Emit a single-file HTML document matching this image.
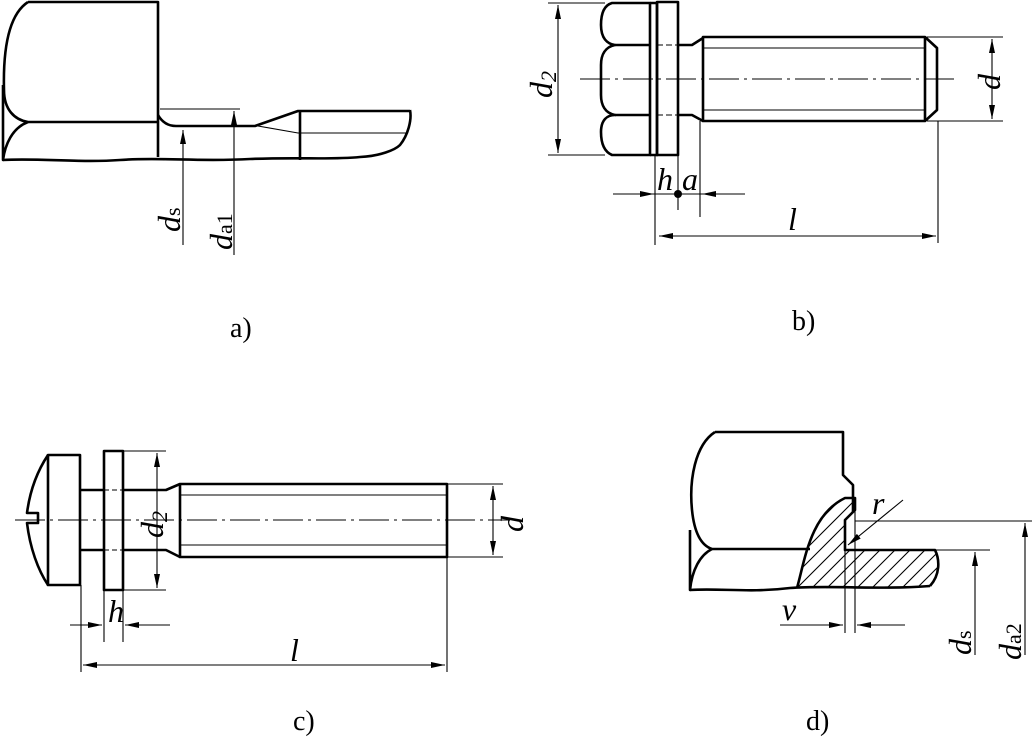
<!DOCTYPE html>
<html><head><meta charset="utf-8"><style>
html,body{margin:0;padding:0;background:#fff;}
svg{display:block;}
text{font-family:"Liberation Serif",serif;fill:#000;}
.it{font-style:italic;}
</style></head><body>
<svg width="1032" height="737" viewBox="0 0 1032 737" xmlns="http://www.w3.org/2000/svg">
<defs>
<marker id="ar" markerWidth="14" markerHeight="6" refX="14" refY="3" orient="auto" markerUnits="userSpaceOnUse"><path d="M0,0 L14,3 L0,6 Z" fill="#000"/></marker>
<clipPath id="hc"><path d="M797,588 C805,560 810,515 845,498 L855,498 L855,510 L845,520 L845,550 L935,550 C940,560 940,575 930,586 C900,590 850,588 797,588 Z"/></clipPath>
</defs>
<g fill="none" stroke="#000" stroke-width="2.6" stroke-linejoin="round">
<!-- panel a -->
<path d="M28,2 L158,2 L158,157"/>
<path d="M28,2 C8,15 3,50 4,90 C4,110 15,120 28,122 L158,122"/>
<path d="M28,122 C12,128 5,145 3,160 L3,85"/>
<path d="M3,160 C40,158 80,163 120,160 C160,157 200,162 250,159 C300,157 330,160 360,157 C380,156 395,150 400,145 C408,135 412,120 410,110"/>
<path d="M158,115 C162,122 168,126 176,126 L255,126 L298,111 L410,111"/>
<path d="M300,111 L300,160"/>
<!-- panel b -->
<path d="M612,3 L650,3 L650,155 L612,155 C605,152 601,145 601,132 C601,120 607,115 615,115 C605,113 601,105 601,95 L601,65 C601,55 605,47 615,45 C607,44 601,38 601,25 C601,12 605,5 612,3 Z"/>
<path d="M615,45 L650,45 M615,115 L650,115"/>
<path d="M650,3 L657,3 L657,155 L650,155"/>
<rect x="657" y="2" width="21" height="153"/>
<path d="M678,45 L692,45 L703,38 M678,115 L692,115 L703,121"/>
<path d="M703,37 L925,37 L937,48 L937,110 L925,121 L703,121 Z"/>
<path d="M925,37 L925,121"/>
<!-- panel c -->
<path d="M48,455 L80,455 L80,585 L48,585 Z"/>
<path d="M48,455 C38,470 30,490 27,513 L38,513 L38,523 L27,523 C30,548 38,570 48,585"/>
<path d="M80,490 L104,490 M80,550 L104,550"/>
<rect x="104" y="451" width="19" height="139"/>
<path d="M123,490 L166,490 L180,484 M123,550 L166,550 L180,557"/>
<path d="M180,484 L447,484 L447,557 L180,557 Z"/>
<!-- panel d -->
<path d="M715,432 L843,432 L843,475 L853,485 L853,512"/>
<path d="M715,432 C695,445 689,480 692,510 C694,530 700,545 712,549 L810,549"/>
<path d="M712,549 C700,555 692,570 690,590 L690,530"/>
<path d="M690,590 C720,588 750,593 790,588 C830,585 880,590 930,586"/>
<path d="M797,588 C805,560 810,515 845,498 L855,498 L855,510 L845,520 L845,550 L935,550 C940,560 940,575 930,586"/>
</g>
<g fill="none" stroke="#000" stroke-width="1.1">
<path d="M258,126 L298,133 L406,133"/>
<path d="M160,109 L240,109"/>
<path d="M183,245 L183,130" marker-end="url(#ar)"/>
<path d="M234,255 L234,111" marker-end="url(#ar)"/>
<path d="M703,48 L925,48 M703,110 L925,110"/>
<path d="M580,79 L955,79" stroke-dasharray="30,5,3,5"/>
<path d="M548,3 L605,3 M548,155 L605,155"/>
<path d="M558,79 L558,5" marker-end="url(#ar)"/><path d="M558,79 L558,153" marker-end="url(#ar)"/>
<path d="M927,37 L1003,37 M927,121 L1003,121"/>
<path d="M992,79 L992,39" marker-end="url(#ar)"/><path d="M992,79 L992,119" marker-end="url(#ar)"/>
<path d="M657,45 L678,45 M657,115 L678,115" stroke-dasharray="6,3"/>
<path d="M655,155 L655,245 M678,155 L678,210 M700,121 L700,217 M938,121 L938,243"/>
<path d="M613,194 L654,194" marker-end="url(#ar)"/><path d="M745,194 L702,194" marker-end="url(#ar)"/>
<path d="M654,194 L702,194"/>
<path d="M797,236 L659,236" marker-end="url(#ar)"/><path d="M797,236 L936,236" marker-end="url(#ar)"/>
<path d="M180,495 L447,495 M180,545 L447,545"/>
<path d="M15,520 L510,520" stroke-dasharray="30,5,3,5"/>
<path d="M104,490 L123,490 M104,550 L123,550" stroke-dasharray="5,3"/>
<path d="M123,451 L166,451 M123,590 L166,590"/>
<path d="M157,520 L157,453" marker-end="url(#ar)"/><path d="M157,520 L157,588" marker-end="url(#ar)"/>
<path d="M447,484 L503,484 M447,557 L503,557"/>
<path d="M493,520 L493,486" marker-end="url(#ar)"/><path d="M493,520 L493,555" marker-end="url(#ar)"/>
<path d="M81,585 L81,672 M104,590 L104,642 M123,590 L123,642 M447,557 L447,672"/>
<path d="M70,625 L102,625" marker-end="url(#ar)"/><path d="M170,625 L125,625" marker-end="url(#ar)"/>
<path d="M264,665 L83,665" marker-end="url(#ar)"/><path d="M264,665 L445,665" marker-end="url(#ar)"/>
<g clip-path="url(#hc)">
<path d="M760,640 L860,540 M775,640 L875,540 M790,640 L890,540 M805,640 L905,540 M820,640 L920,540 M835,640 L935,540 M850,640 L950,540 M865,640 L965,540 M880,640 L980,540 M745,640 L845,540 M730,640 L880,490 M715,640 L865,490 M700,640 L850,490 M685,640 L835,490"/>
</g>
<path d="M855,521 L1032,521 M935,550 L990,550"/>
<path d="M845,520 L845,633 M855,510 L855,633"/>
<path d="M780,625 L843,625" marker-end="url(#ar)"/><path d="M905,625 L857,625" marker-end="url(#ar)"/>
<path d="M903,500 L848,545" marker-end="url(#ar)"/>
<path d="M975,655 L975,552" marker-end="url(#ar)"/>
<path d="M1025,655 L1025,523" marker-end="url(#ar)"/>
</g>
<circle cx="678" cy="194" r="4" fill="#000"/>
<g font-size="32">
<text class="it" transform="translate(180,232) rotate(-90)">d<tspan font-style="normal" font-size="22">s</tspan></text>
<text class="it" transform="translate(232,250) rotate(-90)">d<tspan font-style="normal" font-size="22">a1</tspan></text>
<text x="230" y="337" font-size="28">a)</text>
<text class="it" transform="translate(552,98) rotate(-90)">d<tspan font-size="22" dy="4">2</tspan></text>
<text class="it" transform="translate(1000,90) rotate(-90)">d</text>
<text class="it" x="657" y="190">h</text>
<text class="it" x="682" y="190">a</text>
<text class="it" x="788" y="230">l</text>
<text x="792" y="330" font-size="28">b)</text>
<text class="it" transform="translate(163,538) rotate(-90)">d<tspan font-size="22" dy="4">2</tspan></text>
<text class="it" transform="translate(523,532) rotate(-90)">d</text>
<text class="it" x="108" y="622">h</text>
<text class="it" x="290" y="661">l</text>
<text x="293" y="730" font-size="28">c)</text>
<text class="it" x="872" y="514">r</text>
<text class="it" x="782" y="620">v</text>
<text class="it" transform="translate(971,655) rotate(-90)">d<tspan font-style="normal" font-size="22">s</tspan></text>
<text class="it" transform="translate(1021,660) rotate(-90)">d<tspan font-style="normal" font-size="22">a2</tspan></text>
<text x="806" y="730" font-size="28">d)</text>
</g>
</svg>
</body></html>
